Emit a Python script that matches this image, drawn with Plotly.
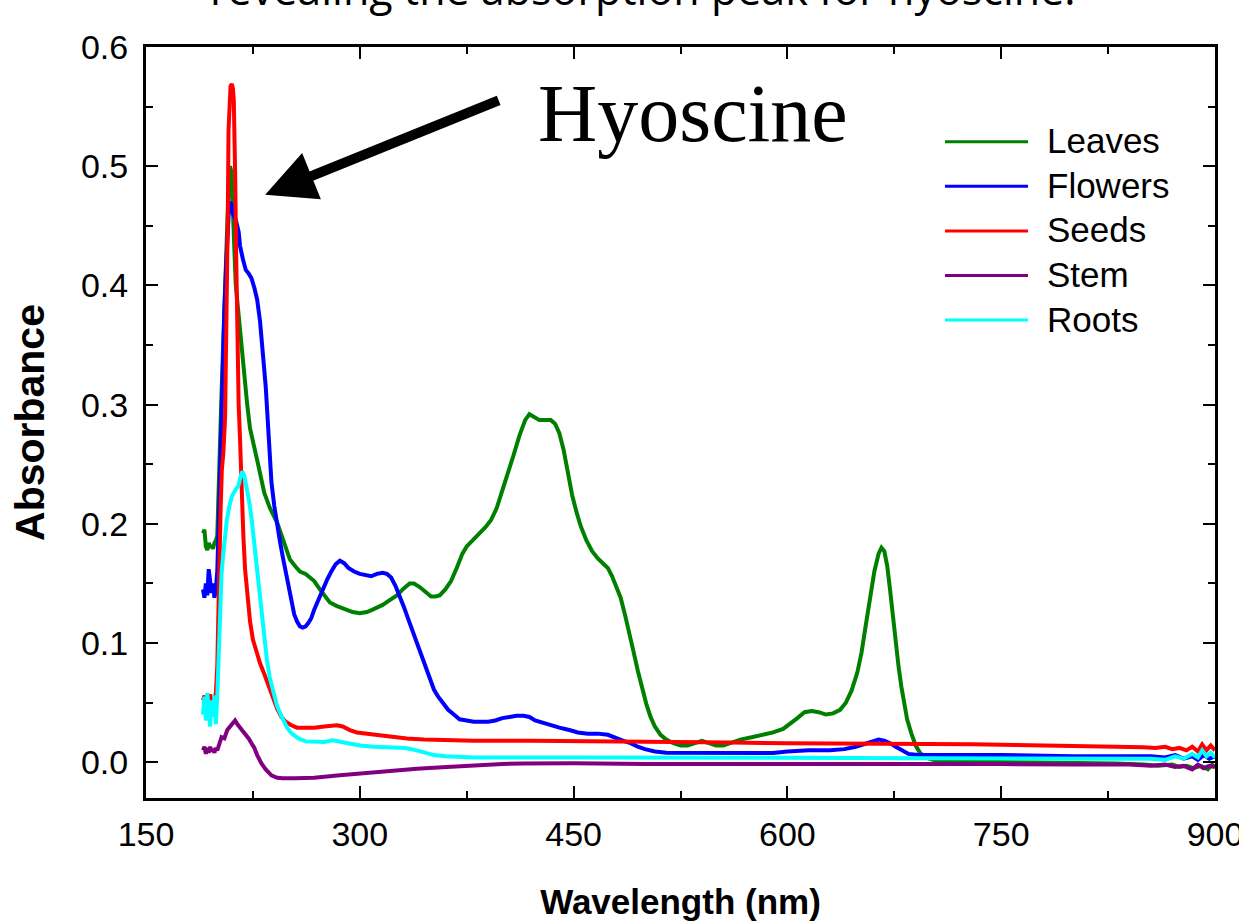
import plotly.graph_objects as go

# ---------------- data ----------------
series_names = ["Leaves", "Flowers", "Seeds", "Stem", "Roots"]
series_colors = ["#008000", "#0000FF", "#FF0000", "#800080", "#00FFFF"]

x_ticks = [150, 300, 450, 600, 750, 900]
y_ticks = [0.0, 0.1, 0.2, 0.3, 0.4, 0.5, 0.6]

leaves_wl = [190, 191, 192, 193, 194, 195, 196, 197, 198, 199, 200, 201, 202, 203, 204, 205, 206, 207, 208, 209,
             210, 211, 212, 213, 214, 215, 217, 219, 221, 223, 225, 229, 233, 237, 242, 247, 251, 255, 258, 262,
             265, 268, 272, 276, 279, 284, 288, 295, 300, 305, 309, 313, 316, 321, 326, 331, 335, 338, 342, 346,
             350, 353, 356, 360, 364, 368, 372, 375, 380, 384, 388, 392, 396, 400, 404, 408, 412, 416, 419, 422,
             426, 430, 434, 437, 440, 443, 446, 449, 452, 455, 459, 463, 467, 471, 474, 477, 480, 483, 486, 489,
             492, 495, 498, 501, 504, 507, 511, 515, 520, 525, 530, 535, 540, 545, 550, 555, 560, 567, 575, 582,
             590, 597, 602, 607, 612, 617, 622, 627, 632, 637, 641, 645, 649, 652, 655, 658, 661, 664, 666, 668,
             670, 672, 674, 676, 678, 680, 682, 684, 687, 690, 693, 697, 702, 710, 730, 760, 800, 830, 850, 860,
             870, 875, 880, 885, 890, 895, 898, 900]
leaves_abs = [0.192, 0.195, 0.181, 0.178, 0.184, 0.180, 0.182, 0.179, 0.184, 0.186, 0.19, 0.22, 0.27, 0.31, 0.35, 0.39, 0.42, 0.45, 0.48, 0.50,
              0.495, 0.47, 0.43, 0.40, 0.39, 0.375, 0.35, 0.32, 0.30, 0.28, 0.268, 0.248, 0.226, 0.213, 0.201, 0.185, 0.170, 0.164, 0.160, 0.158,
              0.155, 0.152, 0.145, 0.139, 0.134, 0.131, 0.129, 0.126, 0.125, 0.126, 0.128, 0.130, 0.132, 0.136, 0.140, 0.146, 0.150, 0.150, 0.147, 0.143,
              0.139, 0.139, 0.140, 0.145, 0.152, 0.163, 0.175, 0.181, 0.187, 0.192, 0.197, 0.203, 0.213, 0.228, 0.242, 0.258, 0.274, 0.287, 0.292, 0.290,
              0.287, 0.287, 0.287, 0.284, 0.276, 0.262, 0.243, 0.224, 0.210, 0.198, 0.186, 0.177, 0.171, 0.167, 0.163, 0.156, 0.147, 0.138, 0.124, 0.110,
              0.093, 0.077, 0.062, 0.049, 0.038, 0.030, 0.023, 0.019, 0.016, 0.014, 0.014, 0.016, 0.018, 0.016, 0.014, 0.014, 0.016, 0.019, 0.021, 0.023,
              0.025, 0.028, 0.032, 0.037, 0.042, 0.043, 0.042, 0.040, 0.041, 0.044, 0.050, 0.060, 0.075, 0.092, 0.115, 0.140, 0.160, 0.175, 0.180, 0.177,
              0.165, 0.145, 0.122, 0.100, 0.080, 0.063, 0.048, 0.036, 0.024, 0.014, 0.008, 0.004, 0.002, 0.001, 0.0005, 0.0, 0.0, -0.001, -0.002, -0.003,
              -0.002, -0.004, -0.003, -0.005, -0.003, -0.006, -0.002, -0.004]

flowers_wl = [190, 191, 192, 193, 194, 195, 196, 197, 198, 199, 200, 201, 202, 203, 204, 205, 206, 207, 208, 209,
              210, 211, 213, 215, 216, 218, 220, 222, 224, 226, 228, 230, 232, 234, 236, 238, 240, 242, 244, 246,
              248, 250, 252, 254, 256, 258, 260, 262, 264, 266, 268, 271, 274, 277, 280, 283, 286, 289, 292, 296,
              300, 304, 308, 312, 316, 319, 322, 325, 328, 331, 334, 337, 340, 343, 346, 349, 352, 355, 358, 362,
              366, 370, 375, 380, 385, 390, 395, 400, 405, 410, 415, 419, 423, 428, 433, 440, 447, 453, 460, 467,
              474, 480, 485, 490, 495, 500, 507, 515, 530, 548, 570, 590, 600, 615, 630, 640, 648, 655, 660, 664,
              668, 672, 676, 680, 685, 692, 710, 750, 800, 840, 855, 865, 872, 878, 884, 888, 892, 896, 900]
flowers_abs = [0.145, 0.138, 0.150, 0.140, 0.162, 0.148, 0.142, 0.150, 0.138, 0.145, 0.16, 0.20, 0.25, 0.30, 0.34, 0.38, 0.41, 0.44, 0.46, 0.47,
               0.468, 0.460, 0.455, 0.445, 0.433, 0.422, 0.413, 0.410, 0.406, 0.398, 0.388, 0.370, 0.346, 0.315, 0.275, 0.235, 0.215, 0.197, 0.185, 0.172,
               0.160, 0.145, 0.133, 0.124, 0.118, 0.114, 0.113, 0.114, 0.117, 0.121, 0.128, 0.137, 0.145, 0.153, 0.160, 0.166, 0.169, 0.167, 0.163, 0.160,
               0.158, 0.157, 0.156, 0.158, 0.159, 0.158, 0.155, 0.148, 0.140, 0.130, 0.120, 0.110, 0.100, 0.090, 0.080, 0.070, 0.061, 0.055, 0.050, 0.044,
               0.040, 0.036, 0.035, 0.034, 0.034, 0.034, 0.035, 0.037, 0.038, 0.039, 0.039, 0.038, 0.035, 0.033, 0.031, 0.029, 0.027, 0.025, 0.024, 0.024,
               0.023, 0.020, 0.018, 0.016, 0.013, 0.011, 0.009, 0.008, 0.008, 0.0075, 0.0075, 0.0078, 0.009, 0.010, 0.010, 0.011, 0.013, 0.016, 0.018, 0.019,
               0.018, 0.016, 0.013, 0.010, 0.007, 0.006, 0.006, 0.006, 0.005, 0.005, 0.005, 0.004, 0.006, 0.003, 0.005, 0.002, 0.006, 0.003, 0.005]

seeds_wl = [190, 191, 192, 193, 194, 195, 196, 197, 198, 199, 200, 200.6, 201.5, 202.3, 203.2, 204.3, 205.5, 206.2, 206.8, 207.4,
            207.9, 208.5, 209.3, 210.2, 211, 211.6, 212.1, 212.6, 213.2, 213.8, 214.3, 215, 216, 217, 218.3, 219.5, 221, 223, 225, 227,
            230, 233, 236, 239, 242, 245, 248, 252, 256, 262, 268, 275, 280, 284, 288, 293, 298, 305, 314, 323,
            333, 345, 357, 380, 420, 460, 500, 530, 560, 600, 650, 700, 730, 760, 790, 820, 840, 850, 858, 865,
            870, 875, 880, 884, 888, 891, 894, 897, 900]
seeds_abs = [0.052, 0.056, 0.049, 0.054, 0.051, 0.057, 0.050, 0.054, 0.052, 0.058, 0.08, 0.12, 0.17, 0.21, 0.245, 0.26, 0.29, 0.34, 0.39, 0.46,
             0.53, 0.560, 0.567, 0.569, 0.565, 0.555, 0.53, 0.49, 0.43, 0.38, 0.34, 0.30, 0.27, 0.22, 0.19, 0.162, 0.140, 0.118, 0.103, 0.094,
             0.083, 0.074, 0.064, 0.054, 0.045, 0.038, 0.034, 0.031, 0.029, 0.029, 0.029, 0.030, 0.031, 0.031, 0.030, 0.027, 0.025, 0.024, 0.023, 0.021,
             0.020, 0.019, 0.0185, 0.018, 0.018, 0.0178, 0.0175, 0.017, 0.0165, 0.016, 0.0158, 0.0155, 0.015, 0.0145, 0.014, 0.0135, 0.013, 0.0125, 0.012, 0.013,
             0.011, 0.012, 0.010, 0.013, 0.009, 0.015, 0.010, 0.014, 0.010]

stem_wl = [190, 191, 192, 193, 194, 195, 196, 197, 198, 199, 200, 201, 203, 205, 207, 209, 211, 212.5, 214, 216,
           218, 220, 222, 224, 226, 228, 231, 234, 238, 242, 246, 255, 268, 286, 300, 321, 340, 361, 380, 400,
           415, 450, 500, 540, 600, 650, 700, 750, 800, 840, 855, 865, 872, 878, 884, 888, 892, 896, 900]
stem_abs = [0.010, 0.013, 0.007, 0.012, 0.008, 0.013, 0.009, 0.011, 0.008, 0.012, 0.010, 0.014, 0.021, 0.020, 0.027, 0.030, 0.033, 0.035, 0.032, 0.029,
            0.027, 0.024, 0.020, 0.016, 0.012, 0.006, -0.001, -0.006, -0.011, -0.013, -0.0135, -0.0135, -0.013, -0.011, -0.0095, -0.0075, -0.0055, -0.004, -0.0025, -0.0015,
            -0.001, -0.0008, -0.0015, -0.0015, -0.001, -0.001, -0.0015, -0.0015, -0.002, -0.002, -0.003, -0.002, -0.004, -0.003, -0.006, -0.002, -0.005, -0.003, -0.004]

roots_wl = [190, 191, 192, 193, 194, 195, 196, 197, 198, 199, 200, 201, 202, 203, 204.3, 205.5, 206.7, 208.5, 210.2, 212.5,
            214.8, 216.5, 217.6, 219, 220.7, 222.5, 224.2, 226, 227.7, 229.5, 231.2, 233, 234.8, 237, 239.4, 242, 245.3, 249, 252.3, 257,
            262, 268, 275, 281, 287, 293, 300, 310, 321, 332, 340, 346, 352, 360, 380, 450, 550, 650, 700, 750,
            800, 840, 855, 865, 872, 878, 884, 888, 891, 894, 897, 900]
roots_abs = [0.040, 0.055, 0.035, 0.058, 0.045, 0.030, 0.052, 0.038, 0.056, 0.032, 0.055, 0.09, 0.134, 0.158, 0.176, 0.190, 0.203, 0.215, 0.223, 0.228,
             0.232, 0.240, 0.244, 0.240, 0.231, 0.218, 0.203, 0.183, 0.165, 0.142, 0.122, 0.103, 0.086, 0.070, 0.058, 0.047, 0.038, 0.029, 0.024, 0.020,
             0.0175, 0.017, 0.017, 0.0185, 0.017, 0.015, 0.014, 0.013, 0.0125, 0.012, 0.010, 0.008, 0.006, 0.005, 0.004, 0.004, 0.0038, 0.0035, 0.003, 0.003,
             0.0028, 0.0025, 0.003, 0.002, 0.005, 0.003, 0.007, 0.004, 0.010, 0.005, 0.008, 0.004]

series_wl = [leaves_wl, flowers_wl, seeds_wl, stem_wl, roots_wl]
series_abs = [leaves_abs, flowers_abs, seeds_abs, stem_abs, roots_abs]

# ---------------- figure ----------------
W, H = 1239, 921
L, R, T, B = 146, 24, 47, 123
pw, ph = W - L - R, H - T - B


def px2paper_x(px):
    return (px - L) / pw


def px2paper_y(py):
    return (H - B - py) / ph


fig = go.Figure()
for name, wl, ab, col in zip(series_names, series_wl, series_abs, series_colors):
    fig.add_trace(go.Scatter(x=wl, y=ab, mode="lines", name=name,
                             line=dict(color=col, width=4), showlegend=False))

axis_common = dict(ticks="inside", ticklen=12, tickwidth=2, tickcolor="black",
                   showline=True, linewidth=3, linecolor="black", mirror="ticks",
                   showgrid=False, zeroline=False, ticklabeloverflow="allow", automargin=False,
                   tickfont=dict(size=34, family="Liberation Sans, Arial", color="black"))

fig.update_xaxes(range=[150, 900], tickmode="linear", tick0=150, dtick=150,
                 minor=dict(ticks="inside", tick0=150, dtick=75, ticklen=7, tickwidth=2, tickcolor="black", showgrid=False),
                 ticklabelstandoff=4,
                 title=dict(text="<b>Wavelength (nm)</b>", standoff=48,
                            font=dict(size=35, family="Liberation Sans, Arial", color="black")),
                 **axis_common)
fig.update_yaxes(range=[-0.03, 0.6], tickmode="linear", tick0=0, dtick=0.1, tickformat=".1f",
                 minor=dict(ticks="inside", tick0=0, dtick=0.05, ticklen=7, tickwidth=2, tickcolor="black", showgrid=False),
                 ticklabelstandoff=8,
                 title=dict(text="<b>Absorbance</b>", standoff=24,
                            font=dict(size=41, family="Liberation Sans, Arial", color="black")),
                 **axis_common)

annotations = []
# cropped caption at the top
annotations.append(dict(text="revealing the absorption peak for hyoscine.", xref="paper", yref="paper",
                        x=px2paper_x(643), y=px2paper_y(-11), xanchor="center", yanchor="middle",
                        showarrow=False, font=dict(size=43, family="Open Sans", color="black")))
# Hyoscine label
annotations.append(dict(text="Hyoscine", xref="paper", yref="paper",
                        x=px2paper_x(693), y=px2paper_y(114), xanchor="center", yanchor="middle",
                        showarrow=False, font=dict(size=82, family="Liberation Serif, Times New Roman", color="black")))
# arrow pointing at the hyoscine peak
annotations.append(dict(text="", x=233.6, y=0.476, xref="x", yref="y", ax=235, ay=-95,
                        showarrow=True, arrowhead=2, arrowsize=1, arrowwidth=10, arrowcolor="black", standoff=0))

# legend (long line samples)
shapes = []
for i, (name, col) in enumerate(zip(series_names, series_colors)):
    py = 141.7 + 44.6 * i
    shapes.append(dict(type="line", xref="paper", yref="paper",
                       x0=px2paper_x(945), x1=px2paper_x(1028), y0=px2paper_y(py), y1=px2paper_y(py),
                       line=dict(color=col, width=3)))
    annotations.append(dict(text=name, xref="paper", yref="paper", x=px2paper_x(1045), y=px2paper_y(py - 1),
                            xanchor="left", yanchor="middle", showarrow=False,
                            font=dict(size=35, family="Liberation Sans, Arial", color="black")))

fig.update_layout(width=W, height=H, margin=dict(l=L, r=R, t=T, b=B, autoexpand=False),
                  paper_bgcolor="white", plot_bgcolor="white", showlegend=False,
                  font=dict(family="Liberation Sans, Arial", color="black"),
                  annotations=annotations, shapes=shapes)

fig.write_html("out.html", config={"displayModeBar": False},
               post_script="document.body.style.margin='0px'; document.body.style.overflow='hidden';")
